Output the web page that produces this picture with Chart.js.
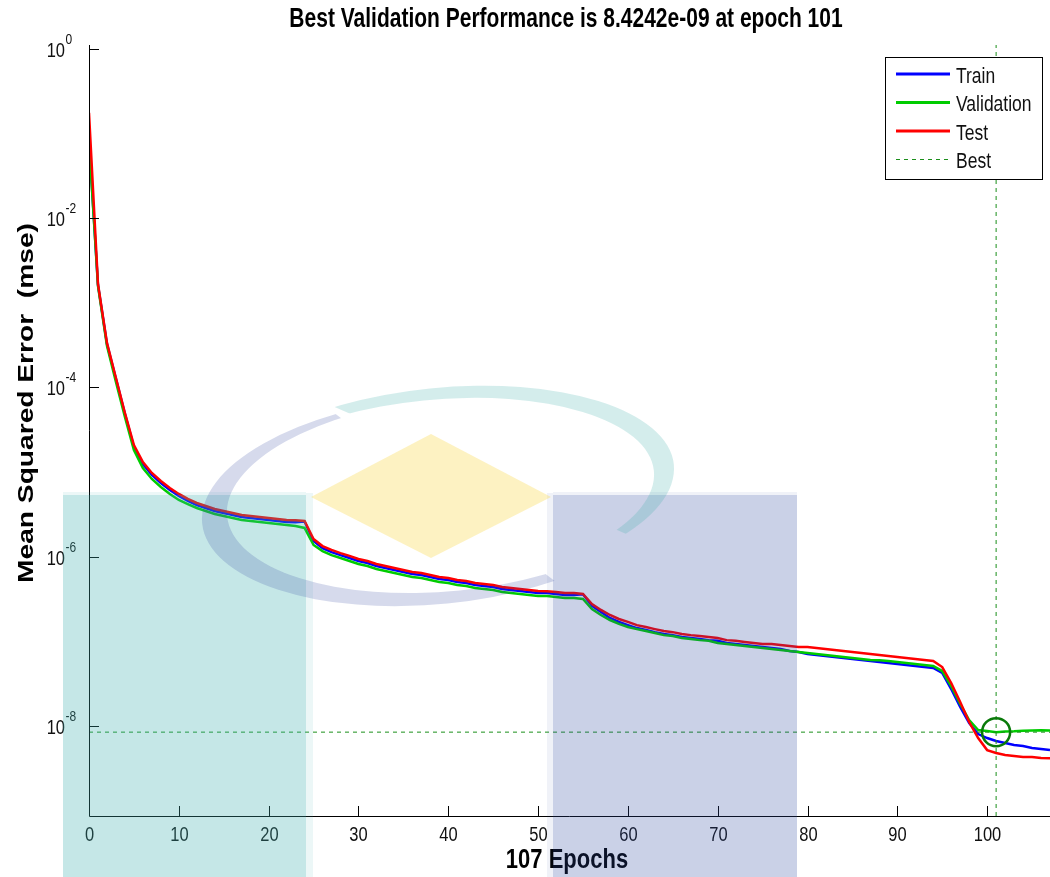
<!DOCTYPE html>
<html>
<head>
<meta charset="utf-8">
<title>Best Validation Performance</title>
<script src="https://cdn.jsdelivr.net/npm/chart.js@4.4.1/dist/chart.umd.min.js"></script>
<style>
  html, body { margin: 0; padding: 0; background: #fff; }
  #wrap { width: 1050px; height: 877px; position: relative; }
</style>
</head>
<body>
<div id="wrap"><canvas id="perfChart" width="1050" height="877"></canvas></div>
<script>
'use strict';

/* ── Data ── */
const chartTitle = 'Best Validation Performance is 8.4242e-09 at epoch 101';
const xAxisTitle = '107 Epochs';
const yAxisTitle = 'Mean Squared Error  (mse)';

const epochCount = 107;
const epochs = Array.from({ length: epochCount + 1 }, (_, i) => i);

const trainMse = [
  8.40e-2, 1.62e-3, 3.26e-4, 1.26e-4, 4.85e-5, 1.97e-5, 1.24e-5, 9.21e-6, 7.41e-6, 6.13e-6,
  5.20e-6, 4.54e-6, 4.07e-6, 3.75e-6, 3.46e-6, 3.28e-6, 3.10e-6, 2.94e-6, 2.86e-6, 2.78e-6,
  2.71e-6, 2.63e-6, 2.56e-6, 2.55e-6, 2.60e-6, 1.53e-6, 1.26e-6, 1.13e-6, 1.04e-6, 9.63e-7,
  8.87e-7, 8.40e-7, 7.74e-7, 7.33e-7, 6.94e-7, 6.58e-7, 6.23e-7, 6.06e-7, 5.74e-7, 5.43e-7,
  5.29e-7, 5.01e-7, 4.87e-7, 4.62e-7, 4.49e-7, 4.37e-7, 4.14e-7, 4.03e-7, 3.92e-7, 3.82e-7,
  3.71e-7, 3.70e-7, 3.61e-7, 3.52e-7, 3.51e-7, 3.58e-7, 2.61e-7, 2.21e-7, 1.88e-7, 1.69e-7,
  1.55e-7, 1.43e-7, 1.36e-7, 1.28e-7, 1.22e-7, 1.18e-7, 1.12e-7, 1.09e-7, 1.06e-7, 1.03e-7,
  1.01e-7, 9.52e-8, 9.27e-8, 9.02e-8, 8.78e-8, 8.54e-8, 8.31e-8, 8.09e-8, 7.66e-8, 7.45e-8,
  7.06e-8, 6.87e-8, 6.69e-8, 6.51e-8, 6.33e-8, 6.16e-8, 5.99e-8, 5.83e-8, 5.68e-8, 5.52e-8,
  5.38e-8, 5.23e-8, 5.09e-8, 4.95e-8, 4.82e-8, 4.21e-8, 2.72e-8, 1.67e-8, 1.08e-8, 8.00e-9,
  7.17e-9, 6.61e-9, 6.26e-9, 5.93e-9, 5.77e-9, 5.47e-9, 5.32e-9, 5.17e-9
];

const validationMse = [
  8.10e-2, 1.58e-3, 3.09e-4, 1.16e-4, 4.47e-5, 1.82e-5, 1.11e-5, 8.27e-6, 6.65e-6, 5.50e-6,
  4.67e-6, 4.18e-6, 3.75e-6, 3.46e-6, 3.19e-6, 3.02e-6, 2.86e-6, 2.71e-6, 2.63e-6, 2.56e-6,
  2.50e-6, 2.43e-6, 2.36e-6, 2.30e-6, 2.18e-6, 1.37e-6, 1.16e-6, 1.04e-6, 9.63e-7, 8.87e-7,
  8.18e-7, 7.74e-7, 7.13e-7, 6.76e-7, 6.40e-7, 6.06e-7, 5.74e-7, 5.58e-7, 5.29e-7, 5.01e-7,
  4.87e-7, 4.62e-7, 4.49e-7, 4.25e-7, 4.14e-7, 4.03e-7, 3.82e-7, 3.71e-7, 3.61e-7, 3.52e-7,
  3.42e-7, 3.41e-7, 3.33e-7, 3.24e-7, 3.23e-7, 3.15e-7, 2.40e-7, 2.04e-7, 1.78e-7, 1.60e-7,
  1.47e-7, 1.39e-7, 1.32e-7, 1.25e-7, 1.18e-7, 1.15e-7, 1.09e-7, 1.06e-7, 1.03e-7, 1.01e-7,
  9.52e-8, 9.27e-8, 9.02e-8, 8.78e-8, 8.54e-8, 8.31e-8, 8.09e-8, 7.87e-8, 7.66e-8, 7.45e-8,
  7.25e-8, 7.06e-8, 6.87e-8, 6.69e-8, 6.51e-8, 6.33e-8, 6.16e-8, 5.99e-8, 5.97e-8, 5.83e-8,
  5.68e-8, 5.52e-8, 5.38e-8, 5.23e-8, 5.09e-8, 4.44e-8, 2.95e-8, 1.81e-8, 1.17e-8, 8.92e-9,
  8.68e-9, 8.4242e-9, 8.55e-9, 8.62e-9, 8.75e-9, 8.80e-9, 8.85e-9, 8.80e-9
];

const testMse = [
  1.75e-1, 1.67e-3, 3.35e-4, 1.29e-4, 4.98e-5, 2.08e-5, 1.31e-5, 9.73e-6, 7.83e-6, 6.47e-6,
  5.50e-6, 4.80e-6, 4.30e-6, 3.96e-6, 3.65e-6, 3.46e-6, 3.28e-6, 3.10e-6, 3.02e-6, 2.94e-6,
  2.86e-6, 2.78e-6, 2.71e-6, 2.69e-6, 2.63e-6, 1.61e-6, 1.33e-6, 1.20e-6, 1.10e-6, 1.02e-6,
  9.37e-7, 8.87e-7, 8.18e-7, 7.74e-7, 7.33e-7, 6.94e-7, 6.58e-7, 6.40e-7, 6.06e-7, 5.74e-7,
  5.58e-7, 5.29e-7, 5.15e-7, 4.87e-7, 4.74e-7, 4.62e-7, 4.37e-7, 4.25e-7, 4.14e-7, 4.03e-7,
  3.92e-7, 3.90e-7, 3.82e-7, 3.71e-7, 3.70e-7, 3.61e-7, 2.75e-7, 2.34e-7, 2.04e-7, 1.83e-7,
  1.69e-7, 1.55e-7, 1.47e-7, 1.39e-7, 1.32e-7, 1.28e-7, 1.22e-7, 1.18e-7, 1.15e-7, 1.12e-7,
  1.09e-7, 1.03e-7, 1.01e-7, 9.78e-8, 9.52e-8, 9.27e-8, 9.25e-8, 9.02e-8, 8.78e-8, 8.54e-8,
  8.52e-8, 8.31e-8, 8.09e-8, 7.87e-8, 7.66e-8, 7.45e-8, 7.25e-8, 7.06e-8, 6.87e-8, 6.69e-8,
  6.51e-8, 6.33e-8, 6.16e-8, 5.99e-8, 5.83e-8, 4.95e-8, 3.21e-8, 1.91e-8, 1.11e-8, 7.17e-9,
  5.17e-9, 4.77e-9, 4.52e-9, 4.40e-9, 4.28e-9, 4.27e-9, 4.16e-9, 4.15e-9
];

const bestEpoch = 101;
const bestPerf = 8.4242e-9;

const yMin = 8.6e-10;
const yMax = 1.11;
const yTickExponents = [0, -2, -4, -6, -8];
const xTicks = [0, 10, 20, 30, 40, 50, 60, 70, 80, 90, 100];

/* ── Styling ── */
const FONT = "'Liberation Sans', Arial, Helvetica, sans-serif";
const STRETCH = 1.28; // reference figure is stretched vertically
const BEST_GREEN = '#1b8f1b';

const toPoints = (ys) => epochs.map((e, i) => ({ x: e, y: ys[i] }));

function drawText(ctx, s, x, y, opt) {
  ctx.save();
  ctx.translate(x, y);
  if (opt.rotate) {
    ctx.rotate(opt.rotate);
    ctx.scale(STRETCH, 1);
  } else {
    ctx.scale(1, STRETCH);
  }
  ctx.font = `${opt.bold ? 'bold ' : ''}${opt.size}px ${FONT}`;
  ctx.fillStyle = opt.color || '#000';
  ctx.textAlign = opt.align || 'left';
  ctx.textBaseline = 'alphabetic';
  ctx.fillText(s, 0, 0);
  ctx.restore();
}

/* ── MATLAB-style frame: axes, inward ticks, labels, legend ── */
const matlabFrame = {
  id: 'matlabFrame',
  afterDraw(chart) {
    const { ctx, chartArea: a, scales: { x, y } } = chart;
    ctx.save();
    ctx.strokeStyle = '#000';
    ctx.lineWidth = 1;
    ctx.setLineDash([]);

    // axis lines (left + bottom)
    ctx.beginPath();
    ctx.moveTo(a.left + 0.5, a.top);
    ctx.lineTo(a.left + 0.5, a.bottom + 0.5);
    ctx.lineTo(a.right, a.bottom + 0.5);
    ctx.stroke();

    // x ticks + labels
    xTicks.forEach((t) => {
      const px = Math.round(x.getPixelForValue(t)) + 0.5;
      ctx.beginPath();
      ctx.moveTo(px, a.bottom);
      ctx.lineTo(px, a.bottom - 10);
      ctx.stroke();
      drawText(ctx, String(t), px, a.bottom + 25, { size: 16.5, align: 'center', color: '#111' });
    });

    // y ticks + labels (10^n)
    yTickExponents.forEach((n) => {
      const py = Math.round(y.getPixelForValue(Math.pow(10, n))) + 0.5;
      ctx.beginPath();
      ctx.moveTo(a.left, py);
      ctx.lineTo(a.left + 10, py);
      ctx.stroke();
      drawText(ctx, '10', a.left - 24, py + 7.5, { size: 16.5, align: 'right', color: '#111' });
      drawText(ctx, String(n), a.left - 23.5, py - 6, { size: 12, align: 'left', color: '#111' });
    });

    // titles
    drawText(ctx, chartTitle, 566, 27, { size: 21, bold: true, align: 'center' });
    drawText(ctx, xAxisTitle, 567, 868, { size: 22, bold: true, align: 'center' });
    drawText(ctx, yAxisTitle, 33, 403, { size: 22, bold: true, align: 'center', rotate: -Math.PI / 2 });

    // legend box
    const items = chart.data.datasets.filter((d) => d.label);
    const box = { l: 885.5, t: 57.5, r: 1042.5, b: 179.5 };
    ctx.fillStyle = '#fff';
    ctx.fillRect(box.l, box.t, box.r - box.l, box.b - box.t);
    ctx.strokeStyle = '#000';
    ctx.strokeRect(box.l, box.t, box.r - box.l, box.b - box.t);
    items.forEach((d, i) => {
      const ry = box.t + 16.5 + i * 28.5;
      ctx.save();
      ctx.strokeStyle = d.borderColor;
      ctx.lineWidth = d.borderDash ? 1 : 3;
      ctx.setLineDash(d.borderDash || []);
      ctx.beginPath();
      ctx.moveTo(896, ry);
      ctx.lineTo(950, ry);
      ctx.stroke();
      ctx.restore();
      drawText(ctx, d.label, 956, ry + 8.5, { size: 17.5, align: 'left', color: '#111' });
    });
    ctx.restore();
  }
};

/* ── Faint logo watermark sitting over the figure ── */
const crescent = (ctx, outer, inner, clipPoly, color) => {
  ctx.save();
  ctx.beginPath();
  clipPoly.forEach(([px, py], i) => (i ? ctx.lineTo(px, py) : ctx.moveTo(px, py)));
  ctx.closePath();
  ctx.clip();
  ctx.beginPath();
  ctx.ellipse(outer[0], outer[1], outer[2], outer[3], -0.1, 0, Math.PI * 2);
  ctx.ellipse(inner[0], inner[1], inner[2], inner[3], -0.1, 0, Math.PI * 2);
  ctx.fillStyle = color;
  ctx.fill('evenodd');
  ctx.restore();
};

const watermark = {
  id: 'watermark',
  afterDraw(chart) {
    const { ctx } = chart;
    ctx.save();
    // left teal block
    ctx.fillStyle = 'rgba(64,176,176,0.30)';
    ctx.fillRect(63, 495, 243, 382);
    ctx.fillStyle = 'rgba(64,176,176,0.10)';
    ctx.fillRect(306, 493, 7, 384);
    ctx.fillRect(63, 492, 243, 3);
    // right blue block
    ctx.fillStyle = 'rgba(43,71,160,0.25)';
    ctx.fillRect(553, 495, 244, 382);
    ctx.fillStyle = 'rgba(43,71,160,0.07)';
    ctx.fillRect(547, 493, 6, 384);
    ctx.fillRect(553, 492, 244, 3);
    // yellow diamond
    ctx.fillStyle = 'rgba(248,216,64,0.32)';
    ctx.beginPath();
    ctx.moveTo(431, 434);
    ctx.lineTo(551, 497);
    ctx.lineTo(431, 558);
    ctx.lineTo(311, 497);
    ctx.closePath();
    ctx.fill();
    // swoosh ring: grey-blue lower-left part, teal upper-right part
    crescent(ctx, [437, 500, 236, 104], [450, 494, 224, 97],
      [[-70, 105], [770, 745], [-70, 745]], 'rgba(50,70,160,0.20)');
    crescent(ctx, [440, 488, 235, 100], [433, 493, 222, 93],
      [[-290, 135], [950, 675], [950, -100], [-290, -100]], 'rgba(60,175,170,0.22)');
    ctx.restore();
  }
};

const lineDataset = (label, ys, color, order) => ({
  label,
  data: toPoints(ys),
  borderColor: color,
  backgroundColor: color,
  borderWidth: 2.5,
  pointRadius: 0,
  tension: 0,
  order,
});

new Chart(document.getElementById('perfChart'), {
  type: 'line',
  data: {
    datasets: [
      lineDataset('Train', trainMse, '#0000ff', 5),
      lineDataset('Validation', validationMse, '#00cc00', 4),
      lineDataset('Test', testMse, '#ff0000', 3),
      {
        label: 'Best',
        data: [{ x: 0, y: bestPerf }, { x: epochCount, y: bestPerf }],
        borderColor: BEST_GREEN, borderWidth: 1, borderDash: [4, 4],
        pointRadius: 0, order: 2,
      },
      {
        label: '',
        data: [{ x: bestEpoch, y: yMin }, { x: bestEpoch, y: yMax }],
        borderColor: BEST_GREEN, borderWidth: 1, borderDash: [4, 4],
        pointRadius: 0, order: 2,
      },
      {
        label: '',
        data: [{ x: bestEpoch, y: bestPerf }],
        showLine: false,
        pointStyle: 'circle',
        pointRadius: 14,
        pointBorderWidth: 2.5,
        pointBorderColor: '#0a7a0a',
        pointBackgroundColor: 'rgba(0,0,0,0)',
        order: 1,
      },
    ],
  },
  options: {
    responsive: false,
    devicePixelRatio: 1,
    animation: false,
    layout: { autoPadding: false, padding: { left: 89, right: 0, top: 45, bottom: 61 } },
    scales: {
      x: { type: 'linear', min: 0, max: epochCount, display: false },
      y: { type: 'logarithmic', min: yMin, max: yMax, display: false },
    },
    plugins: {
      legend: { display: false },
      tooltip: { enabled: false },
    },
  },
  plugins: [matlabFrame, watermark],
});
</script>
</body>
</html>
